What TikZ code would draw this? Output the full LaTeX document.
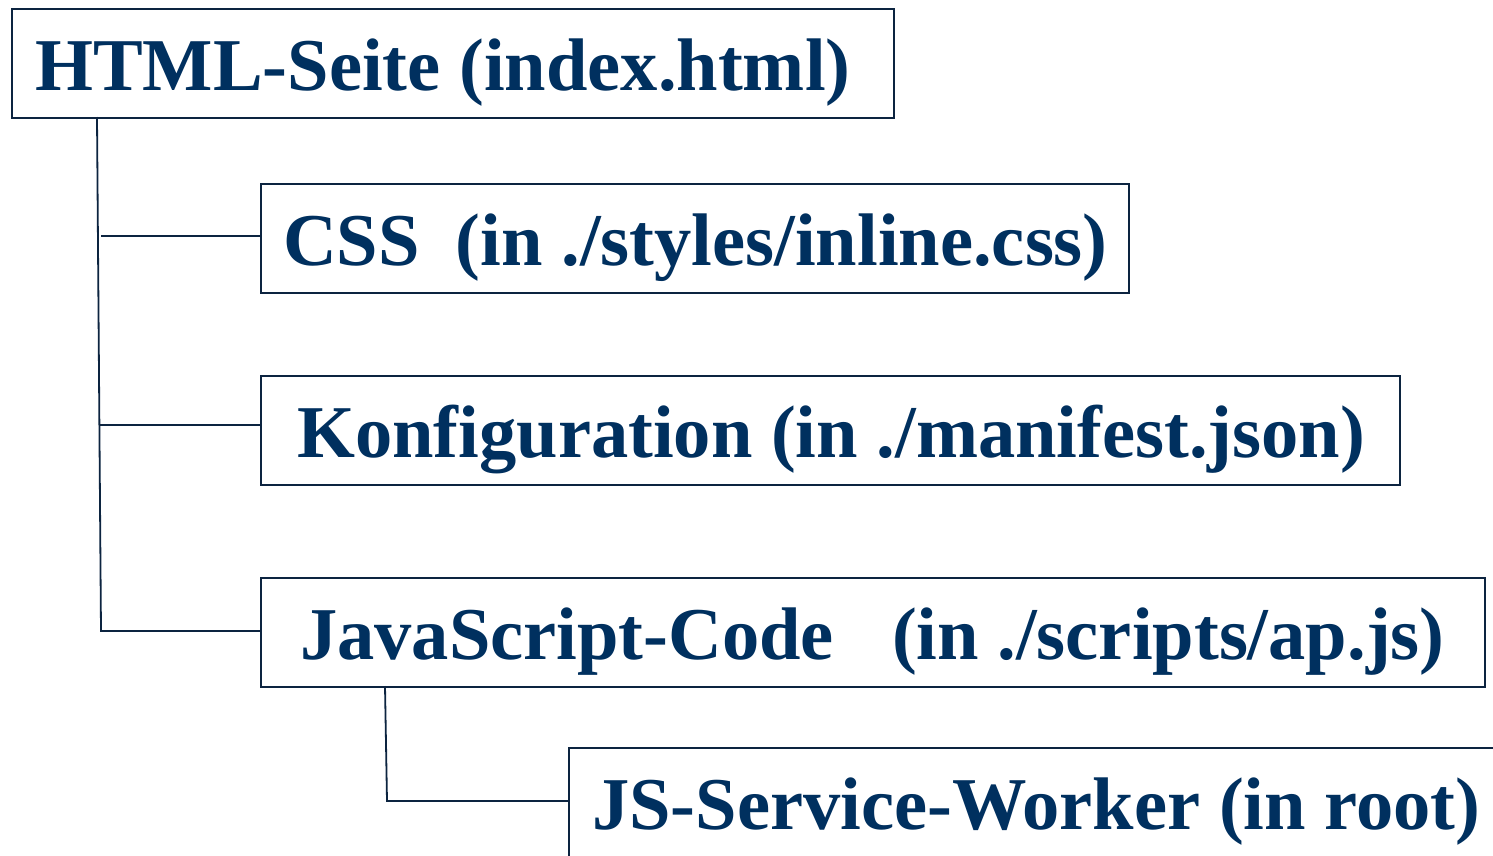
\documentclass[tikz,border=0pt]{standalone}
\usepackage{fontspec}
\setmainfont{Liberation Serif}
\definecolor{txt}{HTML}{00305F}
\definecolor{ln}{HTML}{0C2440}
\begin{document}
\begin{tikzpicture}[x=1pt,y=-1pt,
  box/.style={draw=ln,line width=1.8pt,rectangle,inner sep=0pt,anchor=north west,fill=white},
  lbl/.style={text=txt,font=\fontsize{74.5}{78}\selectfont\bfseries,anchor=base west,inner sep=0pt},
  conn/.style={draw=ln,line width=1.8pt}]
\useasboundingbox[fill=white] (0,0) rectangle (1493,855);
\node[box,minimum width=882pt,minimum height=109pt] (html) at (11,8) {};
\node[box,minimum width=868pt,minimum height=109pt] (css) at (260,183) {};
\node[box,minimum width=1139pt,minimum height=109pt] (konf) at (260,375) {};
\node[box,minimum width=1224pt,minimum height=109pt] (js) at (260,577) {};
\node[box,minimum width=960pt,minimum height=140pt] (sw) at (568,747) {};
\node[lbl] (thtml) at (35,90) {HTML-Seite (index.html)};
\node[lbl] (tcss) at (283,265) {CSS\hspace{36pt}(in ./styles/inline.css)};
\node[lbl] (tkonf) at (297,457) {Konfiguration (in ./manifest.json)};
\node[lbl] (tjs) at (300,659) {JavaScript-Code\hspace{58pt}(in ./scripts/ap.js)};
\node[lbl] (tsw) at (592,829) {JS-Service-Worker (in root)};
\coordinate (top) at (97,117);
\coordinate (bot) at (101,631);
\draw[conn] (top) -- (bot) -- (bot -| js.west);
\draw[conn] (101,236) -- (css.west |- 0,236);
\draw[conn] (100,425) -- (konf.west |- 0,425);
\coordinate (jsb) at (385,686);
\coordinate (swc) at (387,801);
\draw[conn] (jsb) -- (swc) -- (swc -| sw.west);
\end{tikzpicture}
\end{document}
